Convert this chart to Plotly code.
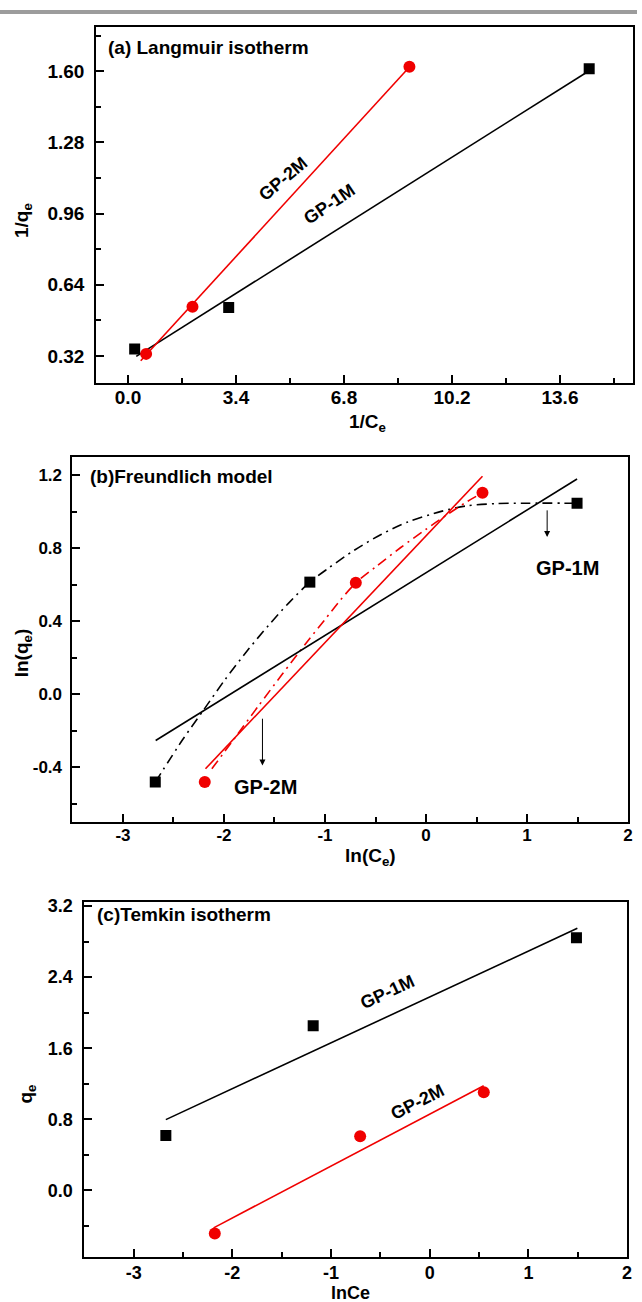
import plotly.graph_objects as go

# ---------------- data ----------------
# (a) Langmuir isotherm: 1/qe vs 1/Ce
lang_1m_x = [0.21, 3.17, 14.52]
lang_1m_y = [0.351, 0.538, 1.612]
lang_2m_x = [0.57, 2.03, 8.86]
lang_2m_y = [0.329, 0.541, 1.621]
lang_fit1_x = [0.26, 14.52]
lang_fit1_y = [0.318, 1.603]
lang_fit2_x = [0.40, 8.86]
lang_fit2_y = [0.298, 1.620]

# (b) Freundlich model: ln(qe) vs ln(Ce)
fr_1m_x = [-2.68, -1.15, 1.495]
fr_1m_y = [-0.482, 0.615, 1.048]
fr_2m_x = [-2.19, -0.695, 0.559]
fr_2m_y = [-0.482, 0.611, 1.105]
fr_fit1_x = [-2.676, 1.495]
fr_fit1_y = [-0.254, 1.181]
fr_fit2_x = [-2.183, 0.559]
fr_fit2_y = [-0.409, 1.196]
fr_curve1_x = [-2.68, -2.41, -2.20, -1.99, -1.76, -1.56, -1.36, -1.15, -0.97, -0.71, -0.44, -0.18, 0.15, 0.40, 0.70, 1.00, 1.495]
fr_curve1_y = [-0.482, -0.25, -0.085, 0.08, 0.245, 0.377, 0.50, 0.615, 0.69, 0.79, 0.878, 0.945, 1.003, 1.033, 1.046, 1.048, 1.048]
fr_curve2_x = [-2.12, -1.90, -1.66, -1.42, -1.18, -1.00, -0.85, -0.695, -0.50, -0.25, 0.0, 0.2, 0.41, 0.559]
fr_curve2_y = [-0.409, -0.245, -0.065, 0.112, 0.285, 0.41, 0.515, 0.611, 0.698, 0.805, 0.905, 0.982, 1.058, 1.105]

# (c) Temkin isotherm: qe vs lnCe
tk_1m_x = [-2.674, -1.181, 1.487]
tk_1m_y = [0.618, 1.853, 2.844]
tk_2m_x = [-2.178, -0.705, 0.548]
tk_2m_y = [-0.483, 0.610, 1.104]
tk_fit1_x = [-2.674, 1.496]
tk_fit1_y = [0.797, 2.949]
tk_fit2_x = [-2.19, 0.547]
tk_fit2_y = [-0.42, 1.179]

# tick labels
lang_xtick_vals = [0.0, 3.4, 6.8, 10.2, 13.6]
lang_xtick_text = ["0.0", "3.4", "6.8", "10.2", "13.6"]
lang_ytick_vals = [0.32, 0.64, 0.96, 1.28, 1.60]
lang_ytick_text = ["0.32", "0.64", "0.96", "1.28", "1.60"]
ln_xtick_vals = [-3, -2, -1, 0, 1, 2]
ln_xtick_text = ["-3", "-2", "-1", "0", "1", "2"]
fr_ytick_vals = [-0.4, 0.0, 0.4, 0.8, 1.2]
fr_ytick_text = ["-0.4", "0.0", "0.4", "0.8", "1.2"]
tk_ytick_vals = [0.0, 0.8, 1.6, 2.4, 3.2]
tk_ytick_text = ["0.0", "0.8", "1.6", "2.4", "3.2"]

# ---------------- figure ----------------
W, H = 642, 1302
BLACK = "#000000"
RED = "#f00000"
FONT = "Arial, Liberation Sans, sans-serif"


def px_x(p):
    return p / W


def px_y(p):
    return 1 - p / H


fig = go.Figure()


def add_line(x, y, xa, ya, color, dash="solid", shape="linear", width=1.6):
    fig.add_trace(go.Scatter(x=x, y=y, mode="lines", xaxis=xa, yaxis=ya,
                             line=dict(color=color, width=width, dash=dash, shape=shape, smoothing=0.8),
                             hoverinfo="skip", showlegend=False))


def add_pts(x, y, xa, ya, color, symbol, size):
    fig.add_trace(go.Scatter(x=x, y=y, mode="markers", xaxis=xa, yaxis=ya,
                             marker=dict(color=color, symbol=symbol, size=size, line=dict(width=0)),
                             hoverinfo="skip", showlegend=False))


DASHDOT = "10px,5px,2px,5px"

# (a)
add_line(lang_fit1_x, lang_fit1_y, "x", "y", BLACK)
add_line(lang_fit2_x, lang_fit2_y, "x", "y", RED)
add_pts(lang_1m_x, lang_1m_y, "x", "y", BLACK, "square", 11)
add_pts(lang_2m_x, lang_2m_y, "x", "y", RED, "circle", 12)

# (b)
add_line(fr_curve1_x, fr_curve1_y, "x2", "y2", BLACK, dash=DASHDOT, shape="spline")
add_line(fr_curve2_x, fr_curve2_y, "x2", "y2", RED, dash=DASHDOT, shape="spline")
add_line(fr_fit1_x, fr_fit1_y, "x2", "y2", BLACK)
add_line(fr_fit2_x, fr_fit2_y, "x2", "y2", RED)
add_pts(fr_1m_x, fr_1m_y, "x2", "y2", BLACK, "square", 11)
add_pts(fr_2m_x, fr_2m_y, "x2", "y2", RED, "circle", 12)

# (c)
add_line(tk_fit1_x, tk_fit1_y, "x3", "y3", BLACK)
add_line(tk_fit2_x, tk_fit2_y, "x3", "y3", RED)
add_pts(tk_1m_x, tk_1m_y, "x3", "y3", BLACK, "square", 11)
add_pts(tk_2m_x, tk_2m_y, "x3", "y3", RED, "circle", 12)


def axis_style(domain, rng, tickvals, ticktext, minor_dtick, minor_tick0, size, anchor, standoff):
    return dict(domain=domain, range=rng, anchor=anchor,
                showline=True, linewidth=2, linecolor=BLACK, mirror=True,
                showgrid=False, zeroline=False,
                ticks="inside", ticklen=8, tickwidth=2, tickcolor=BLACK,
                tickmode="array", tickvals=tickvals, ticktext=ticktext,
                tickfont=dict(family=FONT, size=size, color=BLACK, weight="bold"),
                ticklabelstandoff=standoff,
                minor=dict(ticks="inside", ticklen=5, tickwidth=2, tickcolor=BLACK,
                           dtick=minor_dtick, tick0=minor_tick0, showgrid=False))


# panel pixel boxes
A = dict(l=97, r=638, t=22, b=379)
B = dict(l=73, r=633, t=454, b=820)
C = dict(l=85, r=632, t=900, b=1257)


def xdom(P):
    return [P["l"] / W, P["r"] / W]


def ydom(P):
    return [1 - P["b"] / H, 1 - P["t"] / H]


fig.update_layout(
    width=W, height=H,
    margin=dict(l=0, r=0, t=0, b=0),
    paper_bgcolor="white", plot_bgcolor="white",
    showlegend=False,
    xaxis=axis_style(xdom(A), [-1.0, 15.9], lang_xtick_vals, lang_xtick_text, 1.7, 0, 19, "y", -3),
    yaxis=axis_style(ydom(A), [0.2, 1.8], lang_ytick_vals, lang_ytick_text, 0.16, 0, 19, "x", 6),
    xaxis2=axis_style(xdom(B), [-3.5, 2.0], ln_xtick_vals, ln_xtick_text, 0.5, 0, 17, "y2", -3),
    yaxis2=axis_style(ydom(B), [-0.7, 1.3], fr_ytick_vals, fr_ytick_text, 0.2, 0, 17, "x2", 5),
    xaxis3=axis_style(xdom(C), [-3.5, 2.0], ln_xtick_vals, ln_xtick_text, 0.5, 0, 18, "y3", -2),
    yaxis3=axis_style(ydom(C), [-0.75, 3.25], tk_ytick_vals, tk_ytick_text, 0.4, 0, 18, "x3", 6),
)

# top gray band
fig.add_shape(type="rect", xref="paper", yref="paper", x0=0, x1=1,
              y0=px_y(9), y1=px_y(5), fillcolor="#9c9c9c", line=dict(width=0), layer="above")

ann = []


def text_ann(x, y, text, size, xref="paper", yref="paper", angle=0, xanchor="center", color=BLACK):
    ann.append(dict(x=x, y=y, xref=xref, yref=yref, text=text, showarrow=False,
                    textangle=angle, xanchor=xanchor, yanchor="middle",
                    font=dict(family=FONT, size=size, color=color)))


# panel titles
text_ann(px_x(107), px_y(43), "<b>(a) Langmuir isotherm</b>", 19, xanchor="left")
text_ann(px_x(89), px_y(473), "<b>(b)Freundlich model</b>", 19, xanchor="left")
text_ann(px_x(96), px_y(913), "<b>(c)Temkin isotherm</b>", 19, xanchor="left")

# axis titles
text_ann(px_x(23), px_y(216), "<b>1/q<sub>e</sub></b>", 19, angle=-90)
text_ann(px_x(370), px_y(420), "<b>1/C<sub>e</sub></b>", 19)
text_ann(px_x(23), px_y(650), "<b>ln(q<sub>e</sub>)</b>", 19, angle=-90)
text_ann(px_x(373), px_y(855), "<b>ln(C<sub>e</sub>)</b>", 19)
text_ann(px_x(27), px_y(1093), "<b>q<sub>e</sub></b>", 19, angle=-90)
text_ann(px_x(353), px_y(1293), "<b>lnCe</b>", 18)

# series labels
text_ann(4.88, 1.114, "<b>GP-2M</b>", 18, xref="x", yref="y", angle=-40)
text_ann(6.35, 1.002, "<b>GP-1M</b>", 18, xref="x", yref="y", angle=-34)
text_ann(1.40, 0.692, "<b>GP-1M</b>", 20, xref="x2", yref="y2")
text_ann(-1.59, -0.51, "<b>GP-2M</b>", 20, xref="x2", yref="y2")
text_ann(-0.426, 2.229, "<b>GP-1M</b>", 18, xref="x3", yref="y3", angle=-25)
text_ann(-0.124, 0.994, "<b>GP-2M</b>", 18, xref="x3", yref="y3", angle=-27)

# arrows in (b)
for (xt, yt, yfrom) in [(1.199, 0.862, 1.017), (-1.619, -0.391, -0.126)]:
    ann.append(dict(x=xt, y=yt, xref="x2", yref="y2", ax=xt, ay=yfrom, axref="x2", ayref="y2",
                    text="", showarrow=True, arrowhead=2, arrowsize=1.2, arrowwidth=1,
                    arrowcolor=BLACK))

fig.update_layout(annotations=ann)

fig.write_html(
    "out.html",
    config={"displayModeBar": False},
    post_script="document.body.style.margin='0px';document.body.style.padding='0px';"
                "document.body.style.overflow='hidden';",
)
